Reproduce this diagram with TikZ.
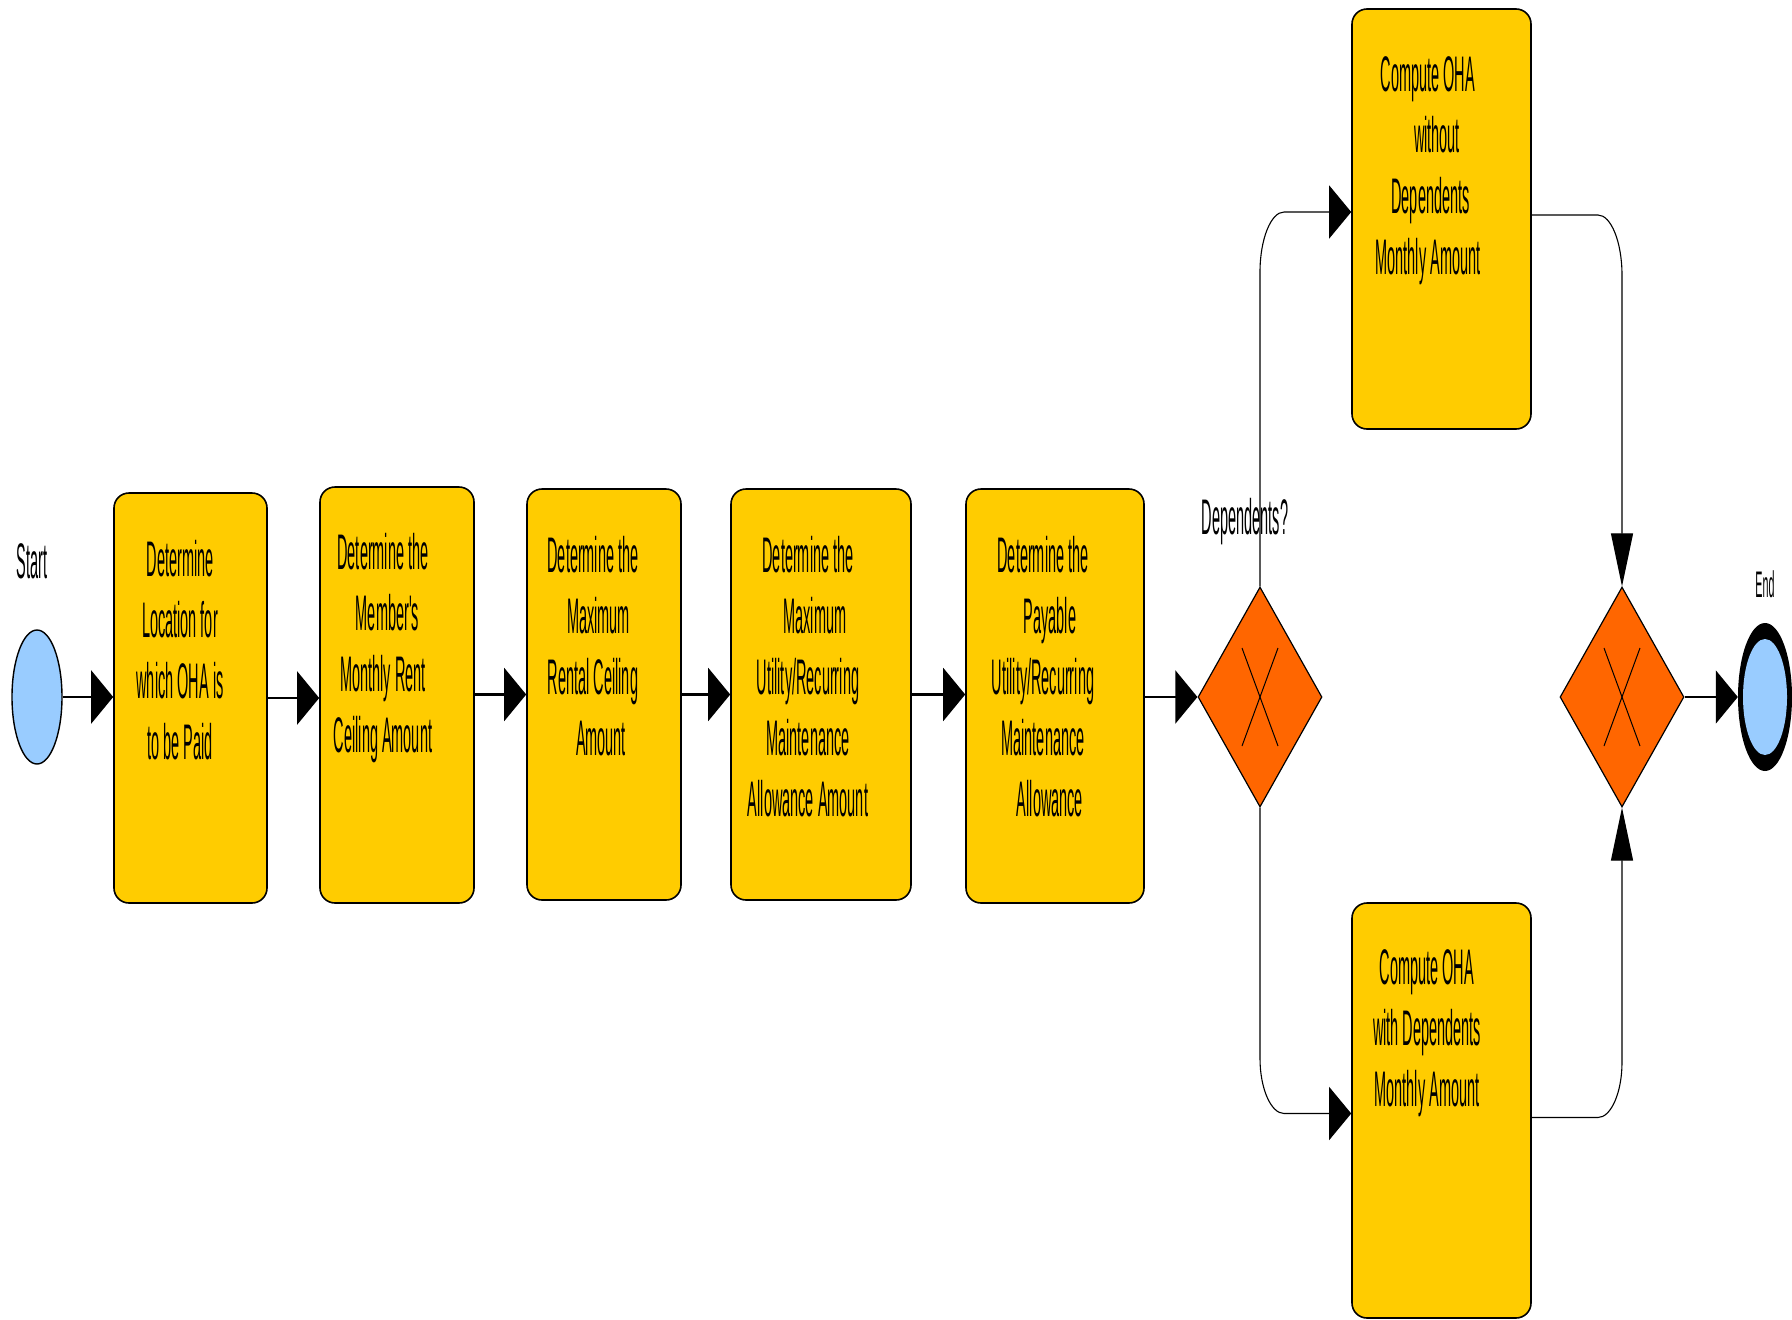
\documentclass[tikz,border=0pt]{standalone}
\usepackage{fontspec}
\usetikzlibrary{arrows.meta,shapes.geometric,calc}
\newfontfamily\cf[FakeStretch=0.29]{Liberation Sans}
\definecolor{boxgold}{HTML}{FFCC00}
\definecolor{gateor}{HTML}{FF6600}
\definecolor{evblue}{HTML}{99CCFF}
\begin{document}
\begin{tikzpicture}[x=1pt,y=-1pt,
  task/.style={draw=black,line width=1.6pt,fill=boxgold,rounded corners=15pt,inner sep=0pt},
  lbl/.style={font=\cf\fontsize{50pt}{61pt}\selectfont,align=center,inner sep=0pt,anchor=north},
  gate/.style={draw=black,line width=1.2pt,fill=gateor,diamond,inner sep=0pt,minimum width=124pt,minimum height=220pt},
  flow/.style={line width=2.2pt,-{Triangle[length=22pt,width=53pt]}},
  branch/.style={line width=1.1pt,-{Triangle[length=22pt,width=53pt]}},
  vbranch/.style={line width=1.1pt,-{Triangle[length=53pt,width=22pt]}},
  cross/.style={line width=1pt}]
\useasboundingbox (0,0) rectangle (1792,1320);

% events
\node[ellipse,draw=black,line width=1.4pt,fill=evblue,minimum width=50pt,minimum height=134pt,inner sep=0pt] (start) at (37,697) {};
\node[font=\cf\fontsize{50pt}{61pt}\selectfont,inner sep=0pt] (startl) at (32,561) {Start};
\node[ellipse,fill=black,minimum width=54pt,minimum height=148pt,inner sep=0pt] (endo) at (1765,697) {};
\node[ellipse,fill=evblue,minimum width=44pt,minimum height=116pt,inner sep=0pt] (end) at (1765,697) {};
\node[font=\cf\fontsize{37pt}{44pt}\selectfont,inner sep=0pt] (endl) at (1765,584) {End};

% tasks
\node[task,minimum width=153pt,minimum height=410pt] (b1) at (190.5,698) {};
\node[task,minimum width=154pt,minimum height=416pt] (b2) at (397,695) {};
\node[task,minimum width=154pt,minimum height=411pt] (b3) at (604,694.5) {};
\node[task,minimum width=180pt,minimum height=411pt] (b4) at (821,694.5) {};
\node[task,minimum width=178pt,minimum height=414pt] (b5) at (1055,696) {};
\node[task,minimum width=179pt,minimum height=420pt] (tb) at (1441.5,219) {};
\node[task,minimum width=179pt,minimum height=415pt] (bb) at (1441.5,1110.5) {};

\node[lbl] (t1) at (180,540) {Determine\\Location for\\which OHA is\\to be Paid};
\node[lbl] (t2) at (383,533) {Determine the\\\hspace{9pt}Member's\\Monthly Rent\\Ceiling Amount};
\node[lbl] (t3) at (593,536) {Determine the\\\hspace{11pt}Maximum\\Rental Ceiling\\\hspace{16pt}Amount};
\node[lbl] (t4) at (808,536) {Determine the\\\hspace{14pt}Maximum\\Utility/Recurring\\Maintenance\\Allowance Amount};
\node[lbl] (t5) at (1043,536) {Determine the\\\hspace{14pt}Payable\\Utility/Recurring\\Maintenance\\\hspace{14pt}Allowance};
\node[lbl] (tt) at (1428,56) {Compute OHA\\\hspace{18pt}without\\\hspace{5pt}Dependents\\Monthly Amount};
\node[lbl] (bt) at (1427,949) {Compute OHA\\with Dependents\\Monthly Amount};

% gateways
\node[gate] (d1) at (1260,697) {};
\node[gate] (d2) at (1622,697) {};
\draw[cross] ($(d1)+(-18,-49)$) -- ($(d1)+(18,49)$);
\draw[cross] ($(d1)+(18,-49)$) -- ($(d1)+(-18,49)$);
\draw[cross] ($(d2)+(-18,-49)$) -- ($(d2)+(18,49)$);
\draw[cross] ($(d2)+(18,-49)$) -- ($(d2)+(-18,49)$);
\node[font=\cf\fontsize{50pt}{61pt}\selectfont,inner sep=0pt] (dq) at (1245,522) {Dependents?};

% main flow
\draw[flow] (start.east) -- (b1.west |- start.east);
\draw[flow] (b1.east) -- (b2.west |- b1.east);
\draw[flow] (b2.east |- b3.west) -- (b3.west);
\draw[flow] (b3.east) -- (b4.west |- b3.east);
\draw[flow] (b4.east) -- (b5.west |- b4.east);
\draw[flow] (b5.east |- d1.west) -- (d1.west);
\draw[flow] (d2.east) -- (endo.west);

% branches
\coordinate (tin) at ([yshift=7pt]tb.west);
\coordinate (tout) at ([yshift=4pt]tb.east);
\coordinate (bin) at ([yshift=-3pt]bb.west);
\coordinate (bout) at ([yshift=-7pt]bb.east);
\draw[branch] (d1.north) -- ($(d1.north |- tin)+(0,60)$) .. controls ($(d1.north |- tin)+(0,27)$) and ($(d1.north |- tin)+(11,0)$) .. ($(d1.north |- tin)+(24,0)$) -- (tin);
\draw[branch] (d1.south) -- ($(d1.south |- bin)+(0,-55)$) .. controls ($(d1.south |- bin)+(0,-25)$) and ($(d1.south |- bin)+(11,0)$) .. ($(d1.south |- bin)+(24,0)$) -- (bin);
\draw[vbranch] (tout) -- ($(d2.north |- tout)+(-24,0)$) .. controls ($(d2.north |- tout)+(-11,0)$) and ($(d2.north |- tout)+(0,27)$) .. ($(d2.north |- tout)+(0,60)$) -- (d2.north);
\draw[vbranch] (bout) -- ($(d2.south |- bout)+(-24,0)$) .. controls ($(d2.south |- bout)+(-11,0)$) and ($(d2.south |- bout)+(0,-25)$) .. ($(d2.south |- bout)+(0,-55)$) -- (d2.south);
\end{tikzpicture}
\end{document}
